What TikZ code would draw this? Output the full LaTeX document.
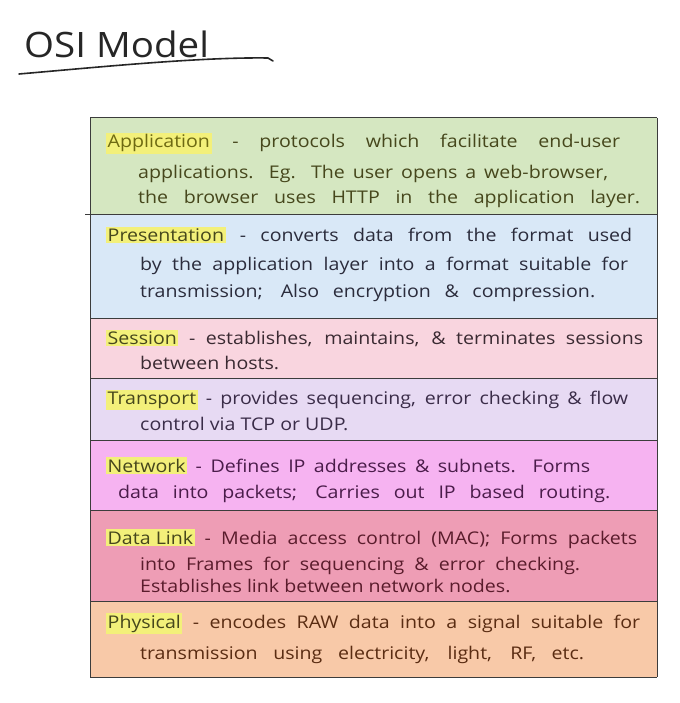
\documentclass[tikz,border=0pt]{standalone}
\usepackage{fontspec}
\setmainfont[FakeStretch=1.12]{Open Sans}
\newfontfamily\titlefont[FakeStretch=1.1]{Open Sans}
\definecolor{cApp}{HTML}{D5E7C1}
\definecolor{cPre}{HTML}{D9E8F7}
\definecolor{cSes}{HTML}{F9D5DF}
\definecolor{cTra}{HTML}{E7DAF3}
\definecolor{cNet}{HTML}{F6B3F1}
\definecolor{cDat}{HTML}{EE9DB5}
\definecolor{cPhy}{HTML}{F8C9A8}
\definecolor{hly}{HTML}{F3F07A}
\definecolor{tApp}{HTML}{46471C}
\definecolor{tPre}{HTML}{2B2C3C}
\definecolor{tSes}{HTML}{3A2A32}
\definecolor{tTra}{HTML}{3A2C48}
\definecolor{tNet}{HTML}{4A1C4A}
\definecolor{tDat}{HTML}{5A1C2C}
\definecolor{tPhy}{HTML}{5A2C12}
\definecolor{lblApp}{HTML}{6E6A12}
\definecolor{rule}{HTML}{3C3C3C}
\newcommand\hlw[1]{{\setlength{\fboxsep}{1.5pt}\colorbox{hly}{#1}}}
\newcommand\fullline[2]{\makebox[#1pt][s]{#2}}
\begin{document}
\begin{tikzpicture}[x=1pt,y=-1pt,
  ln/.style={anchor=base west, inner sep=0pt, font=\fontsize{17.5}{20}\selectfont},
  sep/.style={draw=rule, line width=1pt}]
\useasboundingbox (0,0) rectangle (679,703);
\fill[white] (0,0) rectangle (679,703);
% title
\node[anchor=base west, inner sep=0pt, text=black!85, font=\titlefont\fontsize{35}{40}\selectfont] (title) at (24,58) {OSI Model};
\draw[line width=1.6pt, line cap=round, black!85] (19,74) .. controls (100,67) and (200,57) .. (268,58) -- (273,61);
% rows
\fill[cApp] (90,118) rectangle (657,215);
\fill[cPre] (90,215) rectangle (657,318);
\fill[cSes] (90,318) rectangle (657,378);
\fill[cTra] (90,378) rectangle (657,440);
\fill[cNet] (90,440) rectangle (657,510);
\fill[cDat] (90,510) rectangle (657,601);
\fill[cPhy] (90,601) rectangle (657,677);
\draw[sep] (90,118) -- (657,118);
\draw[sep] (85,215) -- (657,215);
\draw[sep] (90,318) -- (657,318);
\draw[sep] (90,378) -- (657,378);
\draw[sep] (90,440) -- (657,440);
\draw[sep] (90,510) -- (657,510);
\draw[sep] (90,601) -- (657,601);
\draw[sep] (90,677) -- (657,677);
\draw[sep] (90,118) -- (90,677);
\draw[sep] (657,118) -- (657,677);
% Application
\node[ln, text=tApp] (app1) at (106,148) {\fullline{514}{\hlw{\textcolor{lblApp}{Application}} - protocols which facilitate end-user}};
\node[ln, text=tApp] (app2) at (138,179) {\fullline{470}{applications. Eg. The user opens a web-browser,}};
\node[ln, text=tApp] (app3) at (138,204) {\fullline{502}{the browser uses HTTP in the application layer.}};
% Presentation
\node[ln, text=tPre] (pre1) at (106,241) {\fullline{526}{\hlw{\textcolor{tApp}{Presentation}} - converts data from the format used}};
\node[ln, text=tPre] (pre2) at (140,270) {\fullline{488}{by the application layer into a format suitable for}};
\node[ln, text=tPre] (pre3) at (140,297) {\fullline{455}{transmission; Also encryption \& compression.}};
% Session
\node[ln, text=tSes] (ses1) at (106,344) {\fullline{537}{\hlw{\textcolor{tApp}{Session}} - establishes, maintains, \& terminates sessions}};
\node[ln, text=tSes] (ses2) at (140,369) {between hosts.};
% Transport
\node[ln, text=tTra] (tra1) at (106,404) {\fullline{522}{\hlw{\textcolor{tApp}{Transport}} - provides sequencing, error checking \& flow}};
\node[ln, text=tTra] (tra2) at (140,430) {control via TCP or UDP.};
% Network
\node[ln, text=tNet] (net1) at (106,472) {\fullline{484}{\hlw{\textcolor{tApp}{Network}} - Defines IP addresses \& subnets. Forms}};
\node[ln, text=tNet] (net2) at (118,498) {\fullline{492}{data into packets; Carries out IP based routing.}};
% Data Link
\node[ln, text=tDat] (dat1) at (106,544) {\fullline{531}{\hlw{\textcolor{tApp}{Data Link}} - Media access control (MAC); Forms packets}};
\node[ln, text=tDat] (dat2) at (140,570) {\fullline{440}{into Frames for sequencing \& error checking.}};
\node[ln, text=tDat] (dat3) at (140,592) {Establishes link between network nodes.};
% Physical
\node[ln, text=tPhy] (phy1) at (106,628) {\fullline{534}{\hlw{\textcolor{tApp}{Physical}} - encodes RAW data into a signal suitable for}};
\node[ln, text=tPhy] (phy2) at (140,659) {\fullline{444}{transmission using electricity, light, RF, etc.}};
\end{tikzpicture}
\end{document}
